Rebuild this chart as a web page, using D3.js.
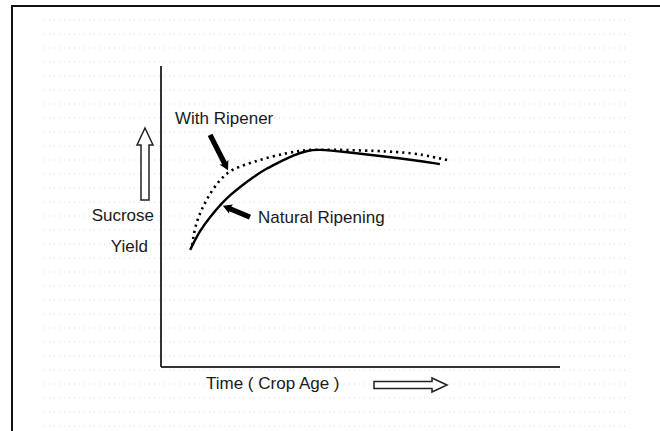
<!DOCTYPE html>
<html>
<head>
<meta charset="utf-8">
<script src="https://cdn.jsdelivr.net/npm/d3@7"></script>
<style>
  body { margin: 0; background: #fff; }
  svg text { font-family: "Liberation Sans", Arial, sans-serif; fill: #1a1a1a; }
</style>
</head>
<body>
<div id="chart"></div>
<script>
var svgWidth = 660;
var svgHeight = 431;

// crop age (arbitrary units, 0-100) and sucrose yield (0-100)
var naturalAge   = [7.3, 9.8, 12.3, 14.8, 17.3, 19.8, 23.1, 26.6, 29.8, 33.1, 36.6, 39.1, 46.6, 54.9, 63.2, 69.9];
var naturalYield = [38.9, 45.5, 49.8, 53.8, 57.1, 59.8, 63.1, 66.1, 68.1, 70.4, 71.8, 72.4, 71.4, 70.1, 68.8, 67.4];

var ripenerAge   = [7.8, 8.5, 9.8, 11.0, 12.8, 14.8, 16.8, 19.3, 23.1, 27.3, 31.6, 34.8, 38.1, 54.9, 63.2, 68.2, 71.7];
var ripenerYield = [40.5, 46.5, 51.2, 54.5, 58.8, 62.1, 64.8, 66.4, 68.1, 69.8, 71.1, 71.8, 72.4, 71.8, 71.1, 69.8, 68.8];

var labels = ["With Ripener", "Natural Ripening"];

var svg = d3.select("#chart")
  .append("svg")
  .attr("width", svgWidth)
  .attr("height", svgHeight);

// outer frame
svg.append("rect")
  .attr("x", 12).attr("y", 6)
  .attr("width", 700).attr("height", 500)
  .attr("fill", "none")
  .attr("stroke", "#111")
  .attr("stroke-width", 2);

// faint dotted background texture
var bg = svg.append("g");
d3.range(20, 431, 14).forEach(function(y) {
  bg.append("line")
    .attr("x1", 44).attr("x2", 628)
    .attr("y1", y).attr("y2", y)
    .attr("stroke", "#d9d9d9")
    .attr("stroke-width", 1)
    .attr("stroke-dasharray", "1,4");
});

// scales
var x = d3.scaleLinear().domain([0, 100]).range([161, 560]);
var y = d3.scaleLinear().domain([0, 100]).range([367, 66]);

// axes (plain lines, no ticks)
svg.append("line")
  .attr("x1", x(0)).attr("x2", x(0))
  .attr("y1", y(0)).attr("y2", y(100))
  .attr("stroke", "#333").attr("stroke-width", 2);
svg.append("line")
  .attr("x1", x(0)).attr("x2", x(100))
  .attr("y1", y(0)).attr("y2", y(0))
  .attr("stroke", "#333").attr("stroke-width", 2);

var line = d3.line()
  .x(d => x(d[0]))
  .y(d => y(d[1]))
  .curve(d3.curveBasis);

var naturalData = naturalAge.map((a, i) => [a, naturalYield[i]]);
var ripenerData = ripenerAge.map((a, i) => [a, ripenerYield[i]]);

svg.append("path")
  .datum(ripenerData)
  .attr("d", line)
  .attr("fill", "none")
  .attr("stroke", "#000")
  .attr("stroke-width", 2.6)
  .attr("stroke-dasharray", "2.2,4");

svg.append("path")
  .datum(naturalData)
  .attr("d", line)
  .attr("fill", "none")
  .attr("stroke", "#000")
  .attr("stroke-width", 2.4);

// annotation arrows (thick black), tip then tail in data units
function thickArrow(tip, tail) {
  var tx = x(tip[0]), ty = y(tip[1]);
  var sx = x(tail[0]), sy = y(tail[1]);
  var ang = Math.atan2(ty - sy, tx - sx);
  var len = Math.hypot(tx - sx, ty - sy);
  var g = svg.append("g")
    .attr("transform", `translate(${tx},${ty}) rotate(${ang * 180 / Math.PI})`);
  g.append("path")
    .attr("d", `M0,0 L-9,-5 L-8,-2.6 L${-len},-2.6 L${-len},2.6 L-8,2.6 L-9,5 Z`)
    .attr("fill", "#000");
}
thickArrow([16.8, 65.4], [12.3, 77.1]);
thickArrow([15.5, 53.6], [22.3, 49.8]);

svg.append("text")
  .attr("x", 175).attr("y", 124)
  .style("font-size", "17px")
  .text(labels[0]);

svg.append("text")
  .attr("x", 258).attr("y", 223)
  .style("font-size", "17px")
  .text(labels[1]);

// y label with hollow arrow
svg.append("text")
  .attr("x", 154).attr("y", 221)
  .attr("text-anchor", "end")
  .style("font-size", "17px")
  .text("Sucrose");
svg.append("text")
  .attr("x", 148).attr("y", 252)
  .attr("text-anchor", "end")
  .style("font-size", "17px")
  .text("Yield");

svg.append("path")
  .attr("d", "M145,128 L153,145 L149,145 L149,200 L141,200 L141,145 L137,145 Z")
  .attr("fill", "#fff")
  .attr("stroke", "#222")
  .attr("stroke-width", 1.5);

// x label with hollow arrow
svg.append("text")
  .attr("x", 206).attr("y", 389)
  .style("font-size", "17px")
  .text("Time ( Crop Age )");

svg.append("path")
  .attr("d", "M447,385 L432,378 L432,381.5 L374,381.5 L374,388.5 L432,388.5 L432,392 Z")
  .attr("fill", "#fff")
  .attr("stroke", "#222")
  .attr("stroke-width", 1.5);
</script>
</body>
</html>
